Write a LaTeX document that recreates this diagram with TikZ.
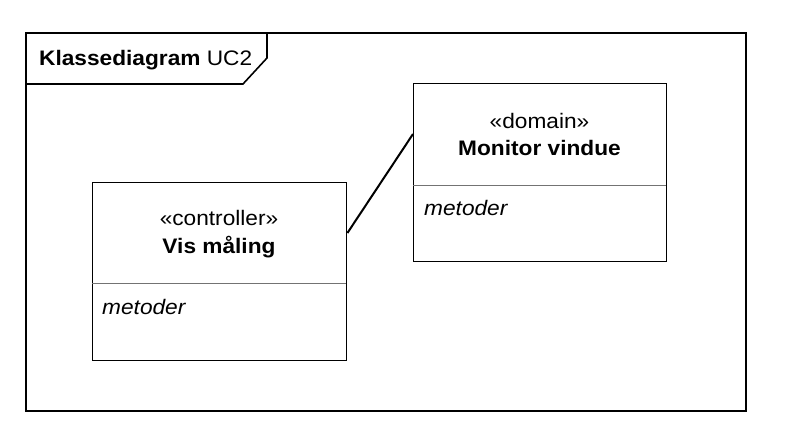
\documentclass[tikz,border=0pt]{standalone}
\usepackage{fontspec}
\setmainfont{Liberation Sans}
\usetikzlibrary{calc}
\newcommand{\sz}{\fontsize{21}{25}\selectfont}
\newcommand{\tx}[1]{\scalebox{1.08}[1]{\sz #1}}
\tikzset{
  frameline/.style={draw=black, line width=1.6pt},
  classbox/.style={draw=black, line width=1.4pt, anchor=north west, inner sep=0pt},
  divider/.style={draw=black!55, line width=1pt},
  txt/.style={inner sep=0pt, anchor=base},
  txtl/.style={inner sep=0pt, anchor=base west},
  assoc/.style={draw=black, line width=2pt}
}
\begin{document}
\begin{tikzpicture}[x=1pt, y=-1pt]
\useasboundingbox (0,0) rectangle (786,442);
% frame
\draw[frameline] (26,33) rectangle (746,411);
\draw[frameline] (26,84) -- (243,84) -- (267,58) -- (267,33);
\node[txtl] (title) at (39,65.5) {\tx{\textbf{Klassediagram} UC2}};
% controller class
\node[classbox, minimum width=254pt, minimum height=178pt] (ctrl) at (92,182) {};
\draw[divider] (92,283) -- (346,283);
\node[txt] (cst) at (219,225) {\tx{«controller»}};
\node[txt] (cname) at (219,253) {\tx{\textbf{Vis måling}}};
\node[txtl] (cmet) at (102,314) {\tx{\itshape metoder}};
% domain class
\node[classbox, minimum width=253pt, minimum height=178pt] (dom) at (413,83) {};
\draw[divider] (413,185) -- (666,185);
\node[txt] (dst) at (539.5,128) {\tx{«domain»}};
\node[txt] (dname) at (539.5,155) {\tx{\textbf{Monitor vindue}}};
\node[txtl] (dmet) at (424,215) {\tx{\itshape metoder}};
% association
\coordinate (c1) at ($(ctrl.north east)+(0,51)$);
\coordinate (d1) at ($(dom.north west)+(0,51)$);
\draw[assoc] (c1) -- (d1);
\end{tikzpicture}
\end{document}
